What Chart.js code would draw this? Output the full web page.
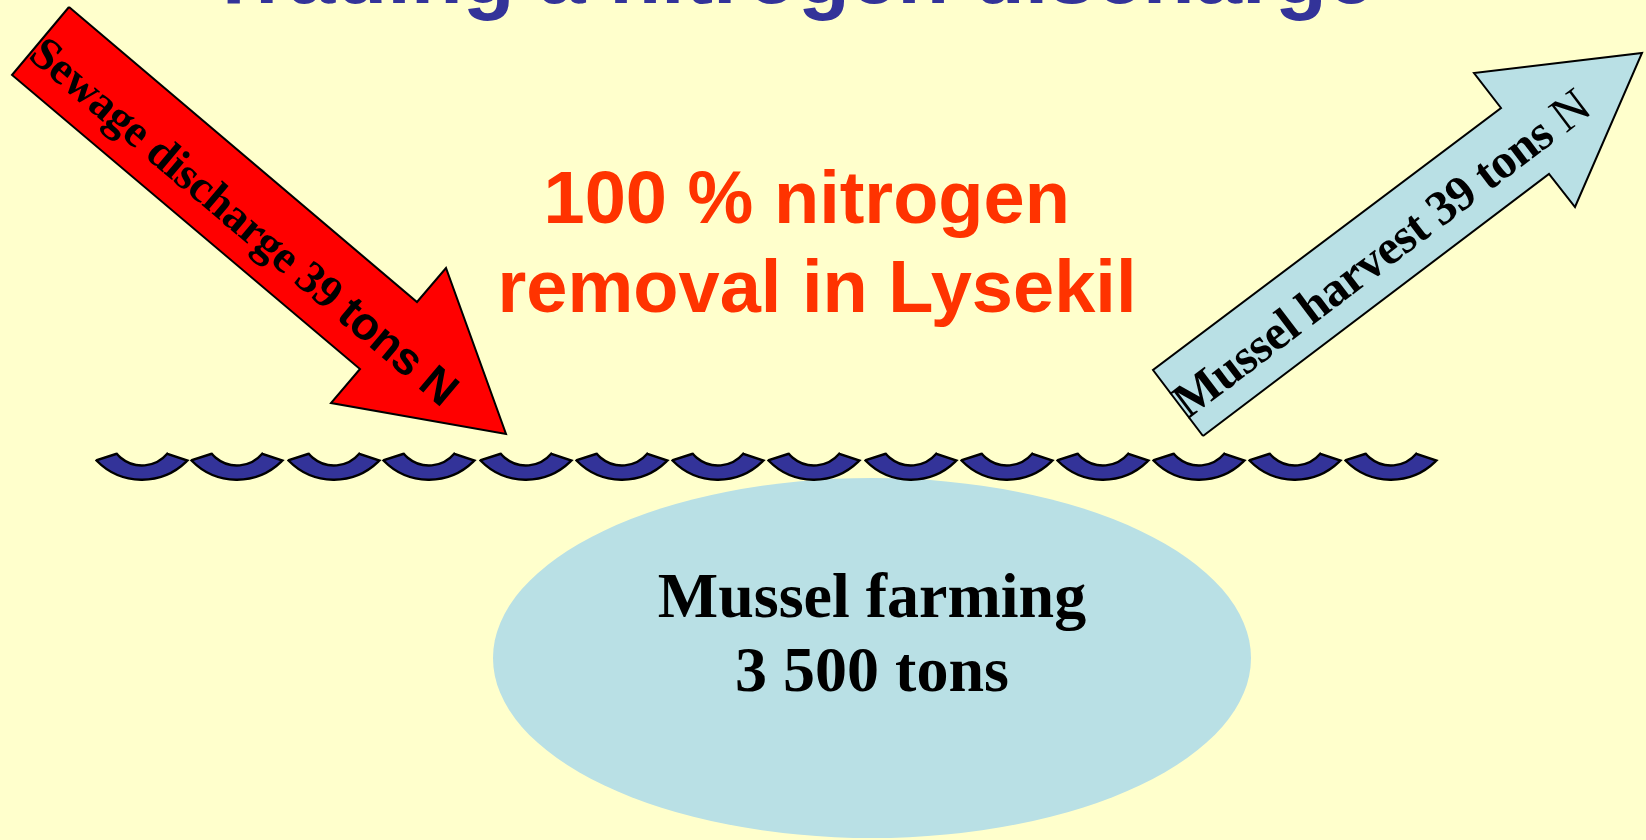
<!DOCTYPE html>
<html>
<head>
<meta charset="utf-8">
<script src="https://cdn.jsdelivr.net/npm/chart.js@4.4.1/dist/chart.umd.min.js"></script>
<style>
  html, body { margin: 0; padding: 0; background: #ffffcc; overflow: hidden; }
  #wrap { width: 1646px; height: 840px; position: relative; }
</style>
</head>
<body>
<div id="wrap"><canvas id="diagram"></canvas></div>
<script>
// texts and figures of the slide
const titleText = "Trading a nitrogen discharge";
const headline = ["100 % nitrogen ", "removal in Lysekil"];
const sewageTons = 39;
const harvestTons = 39;
const farmingTons = "3 500";

// shapes, in slide pixels
const sewageArrow = [[69, 7], [417, 302], [446, 268], [506, 434], [331, 403], [360, 369], [12, 75]];
const harvestArrow = [[1203, 436], [1153, 370], [1501, 108], [1474, 73], [1642, 53], [1575, 207], [1549, 174]];
const waveX = [142, 237, 334, 429, 526, 622, 718, 814, 911, 1007, 1103, 1199, 1295, 1391];
const waveY = 467;
const farmCenter = [872, 658];
const farmRadius = [379, 180];
const labelAt = [[244, 221], [1381, 253]];

const serif = "'Liberation Serif', 'Times New Roman', serif";
const sans = "'Liberation Sans', Arial, sans-serif";

function waveGlyph() {
  const c = document.createElement("canvas");
  c.width = 100;
  c.height = 34;
  const g = c.getContext("2d");
  g.translate(50, 4);
  g.beginPath();
  g.moveTo(-26, 0);
  g.lineTo(-45, 6);
  g.arc(0, -37.8, 63.5, Math.atan2(43.8, -45), Math.atan2(43.8, 45), true);
  g.lineTo(25.5, 0);
  g.arc(0, -21.5, 33, Math.atan2(21.5, 25.5), Math.atan2(21.5, -25.5), false);
  g.closePath();
  g.fillStyle = "#333399";
  g.fill();
  g.lineWidth = 2.4;
  g.strokeStyle = "#000";
  g.stroke();
  return c;
}

const toPts = arr => arr.concat([arr[0]]).map(p => ({ x: p[0], y: p[1] }));

// one line of text made of runs in different fonts, turned along an arrow
function drawRun(ctx, parts, cx, cy, angle, size, spacing) {
  ctx.save();
  ctx.translate(cx, cy);
  ctx.rotate(angle);
  if ("letterSpacing" in ctx) ctx.letterSpacing = spacing + "px";
  let total = 0;
  parts.forEach(p => { ctx.font = p.font; p.w = ctx.measureText(p.text).width; total += p.w; });
  let x = -total / 2;
  ctx.textAlign = "left";
  ctx.textBaseline = "alphabetic";
  ctx.fillStyle = "#000";
  parts.forEach(p => { ctx.font = p.font; ctx.fillText(p.text, x, size * 0.33); x += p.w; });
  ctx.restore();
}

const farmPlugin = {
  id: "farm",
  beforeDatasetsDraw(chart) {
    const { ctx, scales: { x, y } } = chart;
    const cx = x.getPixelForValue(farmCenter[0]);
    const cy = y.getPixelForValue(farmCenter[1]);
    const rx = Math.abs(x.getPixelForValue(farmCenter[0] + farmRadius[0]) - cx);
    const ry = Math.abs(y.getPixelForValue(farmCenter[1] + farmRadius[1]) - cy);
    ctx.save();
    ctx.beginPath();
    ctx.ellipse(cx, cy, rx, ry, 0, 0, Math.PI * 2);
    ctx.fillStyle = "#b9e0e5";
    ctx.fill();
    ctx.restore();
  }
};

const textPlugin = {
  id: "texts",
  afterDatasetsDraw(chart) {
    const { ctx, scales: { x, y } } = chart;
    const px = v => x.getPixelForValue(v);
    const py = v => y.getPixelForValue(v);
    ctx.save();
    ctx.textAlign = "center";
    ctx.textBaseline = "alphabetic";

    // title, cut off by the top edge
    ctx.fillStyle = "#333399";
    ctx.font = "bold 85px " + sans;
    ctx.fillText(titleText, px(791), py(3));

    // headline
    ctx.fillStyle = "#ff3300";
    ctx.font = "bold 74px " + sans;
    ctx.fillText(headline[0], px(817), py(223));
    ctx.fillText(headline[1], px(817), py(312));

    // mussel farm
    ctx.fillStyle = "#000";
    ctx.font = "bold 64px " + serif;
    ctx.fillText("Mussel farming", px(farmCenter[0]), py(617));
    ctx.fillText(farmingTons + " tons", px(farmCenter[0]), py(691));
    ctx.restore();

    // arrow labels
    const a1 = Math.atan2(py(sewageArrow[5][1]) - py(sewageArrow[6][1]), px(sewageArrow[5][0]) - px(sewageArrow[6][0]));
    drawRun(ctx, [
      { text: "Sewage discharge " + sewageTons + " ", font: "bold 46px " + serif },
      { text: "tons N", font: "bold 46px " + sans }
    ], px(labelAt[0][0]), py(labelAt[0][1]), a1, 46, -0.6);

    const a2 = Math.atan2(py(harvestArrow[6][1]) - py(harvestArrow[0][1]), px(harvestArrow[6][0]) - px(harvestArrow[0][0]));
    drawRun(ctx, [
      { text: "Mussel harvest " + harvestTons + " tons ", font: "bold 49px " + serif },
      { text: "N", font: "49px " + serif }
    ], px(labelAt[1][0]), py(labelAt[1][1]), a2, 49, -0.6);
  }
};

new Chart(document.getElementById("diagram"), {
  type: "scatter",
  data: {
    datasets: [
      {
        label: "Sewage discharge",
        data: toPts(sewageArrow),
        showLine: true,
        fill: "shape",
        backgroundColor: "#ff0000",
        borderColor: "#000",
        borderWidth: 2,
        borderJoinStyle: "miter",
        pointRadius: 0,
        tension: 0,
        order: 1
      },
      {
        label: "Mussel harvest",
        data: toPts(harvestArrow),
        showLine: true,
        fill: "shape",
        backgroundColor: "#b9e0e5",
        borderColor: "#000",
        borderWidth: 2,
        borderJoinStyle: "miter",
        pointRadius: 0,
        tension: 0,
        order: 1
      },
      {
        label: "Waves",
        data: waveX.map(v => ({ x: v, y: waveY })),
        pointStyle: waveGlyph(),
        pointRadius: 10,
        showLine: false,
        order: 0
      }
    ]
  },
  options: {
    responsive: true,
    maintainAspectRatio: false,
    animation: false,
    layout: { padding: 0, autoPadding: false },
    scales: {
      x: { type: "linear", min: 0, max: 1646, display: false },
      y: { type: "linear", min: 0, max: 840, reverse: true, display: false }
    },
    plugins: { legend: { display: false }, tooltip: { enabled: false } }
  },
  plugins: [farmPlugin, textPlugin]
});
</script>
</body>
</html>
